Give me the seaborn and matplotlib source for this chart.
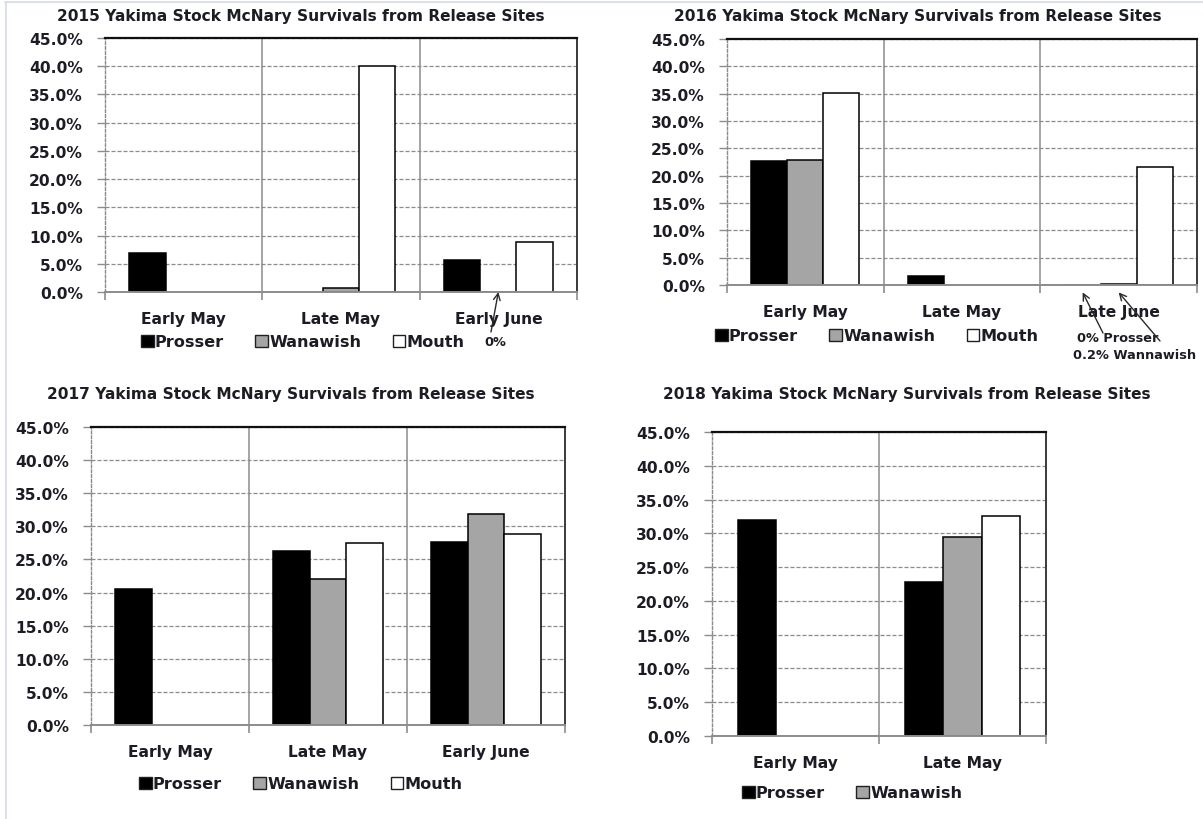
import numpy as np
import pandas as pd
import matplotlib
matplotlib.use("Agg")
import matplotlib.pyplot as plt
import seaborn as sns
from matplotlib.patches import Patch
from matplotlib.ticker import PercentFormatter

# ---- data (survival fractions; NaN = no release) ----
sites = ["Prosser", "Wanawish", "Mouth"]

periods_2015 = ["Early May", "Late May", "Early June"]
prosser_2015 = [0.069, np.nan, 0.056]
wanawish_2015 = [np.nan, 0.007, 0.0]
mouth_2015 = [np.nan, 0.400, 0.088]

periods_2016 = ["Early May", "Late May", "Late June"]
prosser_2016 = [0.227, 0.017, 0.0]
wanawish_2016 = [0.229, np.nan, 0.002]
mouth_2016 = [0.352, np.nan, 0.216]

periods_2017 = ["Early May", "Late May", "Early June"]
prosser_2017 = [0.206, 0.263, 0.277]
wanawish_2017 = [np.nan, 0.220, 0.319]
mouth_2017 = [np.nan, 0.275, 0.289]

periods_2018 = ["Early May", "Late May"]
prosser_2018 = [0.319, 0.228]
wanawish_2018 = [np.nan, 0.295]
mouth_2018 = [np.nan, 0.326]

title_fmt = "{} Yakima Stock McNary Survivals from Release Sites"

# ---- style ----
W, H = 1203, 820
TXT = "#1c1c24"
palette = {"Prosser": "#000000", "Wanawish": "#a5a5a5", "Mouth": "#ffffff"}
GROUP_W = 0.69
FS_TITLE = 11.1
FS_TICK = 11.2
FS_LEG = 11.6
FS_NOTE = 9.3

sns.set_theme(style="white")
plt.rcParams["font.family"] = ["DejaVu Sans"]
plt.rcParams["font.weight"] = "bold"

fig = plt.figure(figsize=(W / 100, H / 100), dpi=100)
fig.patch.set_facecolor("white")


def rect(l, t, r, b):
    return [l / W, 1 - b / H, (r - l) / W, (b - t) / H]


def fx(x):
    return x / W


def fy(y):
    return 1 - y / H


def long_frame(periods, prosser, wanawish, mouth):
    df = pd.DataFrame({
        "period": list(periods) * 3,
        "site": np.repeat(sites, len(periods)),
        "value": list(prosser) + list(wanawish) + list(mouth),
    })
    return df.dropna()


def draw_panel(box, year, periods, prosser, wanawish, mouth,
               title_xy, legend_xy, legend_sites, label_pad):
    ax = fig.add_axes(rect(*box))
    df = long_frame(periods, prosser, wanawish, mouth)
    sns.barplot(data=df, x="period", y="value", hue="site",
                order=periods, hue_order=sites, palette=palette,
                saturation=1, edgecolor="black", linewidth=1.1,
                width=GROUP_W, errorbar=None, legend=False, ax=ax,
                zorder=3)
    n = len(periods)
    ax.set_xlim(-0.5, n - 0.5)
    ax.set_ylim(0, 0.45)
    ax.set_yticks(np.arange(0, 0.4501, 0.05))
    ax.yaxis.set_major_formatter(PercentFormatter(1.0, decimals=1))
    ax.set_xlabel("")
    ax.set_ylabel("")

    # dashed horizontal gridlines and solid category dividers
    ax.set_axisbelow(True)
    ax.yaxis.grid(True, linestyle=(0, (3.2, 1.6)), color="#8a8a8a", lw=0.9)
    ax.xaxis.grid(False)
    for b in np.arange(0.5, n - 0.5, 1.0):
        ax.axvline(b, color="#8c8c8c", lw=1.1, zorder=1)

    # tick marks at category boundaries
    ax.set_xticks(np.arange(-0.5, n, 1.0), minor=True)
    ax.tick_params(axis="x", which="major", length=0, pad=label_pad,
                   labelsize=FS_TICK, labelcolor=TXT)
    ax.tick_params(axis="x", which="minor", length=6, width=1.2,
                   color="#8c8c8c", direction="out", bottom=True)
    ax.tick_params(axis="y", length=5.5, width=1, color="#8c8c8c",
                   direction="out", left=True, pad=10.5, labelsize=FS_TICK,
                   labelcolor=TXT)
    for lab in ax.get_xticklabels() + ax.get_yticklabels():
        lab.set_fontweight("bold")

    # frame
    ax.spines["top"].set_color("#101010")
    ax.spines["top"].set_linewidth(1.6)
    ax.spines["right"].set_color("#3a3a3a")
    ax.spines["right"].set_linewidth(1.4)
    ax.spines["left"].set_color("#8a8a8a")
    ax.spines["left"].set_linewidth(1.0)
    ax.spines["left"].set_linestyle((0, (2, 1.5)))
    ax.spines["bottom"].set_color("#8c8c8c")
    ax.spines["bottom"].set_linewidth(1.4)
    for s in ax.spines.values():
        s.set_zorder(4)

    fig.text(fx(title_xy[0]), fy(title_xy[1]), title_fmt.format(year),
             ha="center", va="center", fontsize=FS_TITLE, fontweight="bold",
             color=TXT)

    handles = [Patch(facecolor=palette[s], edgecolor="#202020", lw=1.0)
               for s in legend_sites]
    fig.legend(handles, legend_sites, loc="center left",
               bbox_to_anchor=(fx(legend_xy[0]), fy(legend_xy[1])),
               ncol=len(legend_sites), frameon=False,
               handlelength=0.78, handleheight=0.78, handletextpad=0.08,
               columnspacing=1.95, borderaxespad=0, borderpad=0,
               labelcolor=TXT, prop={"weight": "bold", "size": FS_LEG})
    return ax


off = GROUP_W / 3

ax15 = draw_panel((105, 39, 577, 293), 2015, periods_2015, prosser_2015,
                  wanawish_2015, mouth_2015, (301, 17), (141, 343), sites,
                  label_pad=13.5)
ax16 = draw_panel((727, 40, 1197, 286), 2016, periods_2016, prosser_2016,
                  wanawish_2016, mouth_2016, (918, 17), (715, 337), sites,
                  label_pad=14)
ax17 = draw_panel((91, 428, 565, 726), 2017, periods_2017, prosser_2017,
                  wanawish_2017, mouth_2017, (291, 395), (139, 785), sites,
                  label_pad=13.5)
ax18 = draw_panel((712, 433, 1046, 737), 2018, periods_2018, prosser_2018,
                  wanawish_2018, mouth_2018, (907, 395), (742, 794),
                  sites[:2], label_pad=13.5)

# callouts for the near-zero bars
arrow = dict(arrowstyle="->", color="#2a2a2a", lw=1.0, mutation_scale=12,
             shrinkA=0, shrinkB=0)
ax15.annotate("", xy=(2.0, 0.0), xycoords=("data", "axes fraction"),
              xytext=(fx(491), fy(333)), textcoords="figure fraction",
              arrowprops=arrow, annotation_clip=False)
fig.text(fx(495), fy(343), "{:.0f}%".format(wanawish_2015[2] * 100),
         ha="center", va="center", fontsize=FS_NOTE, fontweight="bold",
         color=TXT)

ax16.annotate("", xy=(2.0 - off, -0.03), xycoords=("data", "axes fraction"),
              xytext=(fx(1103), fy(334)), textcoords="figure fraction",
              arrowprops=arrow, annotation_clip=False)
ax16.annotate("", xy=(2.0, -0.03), xycoords=("data", "axes fraction"),
              xytext=(fx(1160), fy(342)), textcoords="figure fraction",
              arrowprops=arrow, annotation_clip=False)
fig.text(fx(1077), fy(339), "{:.0f}% Prosser".format(prosser_2016[2] * 100),
         ha="left", va="center", fontsize=FS_NOTE, fontweight="bold",
         color=TXT)
fig.text(fx(1073), fy(356),
         "{:.1f}% Wannawish".format(wanawish_2016[2] * 100),
         ha="left", va="center", fontsize=FS_NOTE, fontweight="bold",
         color=TXT)

# faint page border
fig.add_artist(plt.Line2D([fx(5), 1], [fy(3), fy(3)], color="#d6dce4",
                          lw=1.2, transform=fig.transFigure))
fig.add_artist(plt.Line2D([fx(6), fx(6)], [0, fy(3)], color="#d6dce4",
                          lw=1.2, transform=fig.transFigure))

fig.savefig("out.png", dpi=100, facecolor="white")
